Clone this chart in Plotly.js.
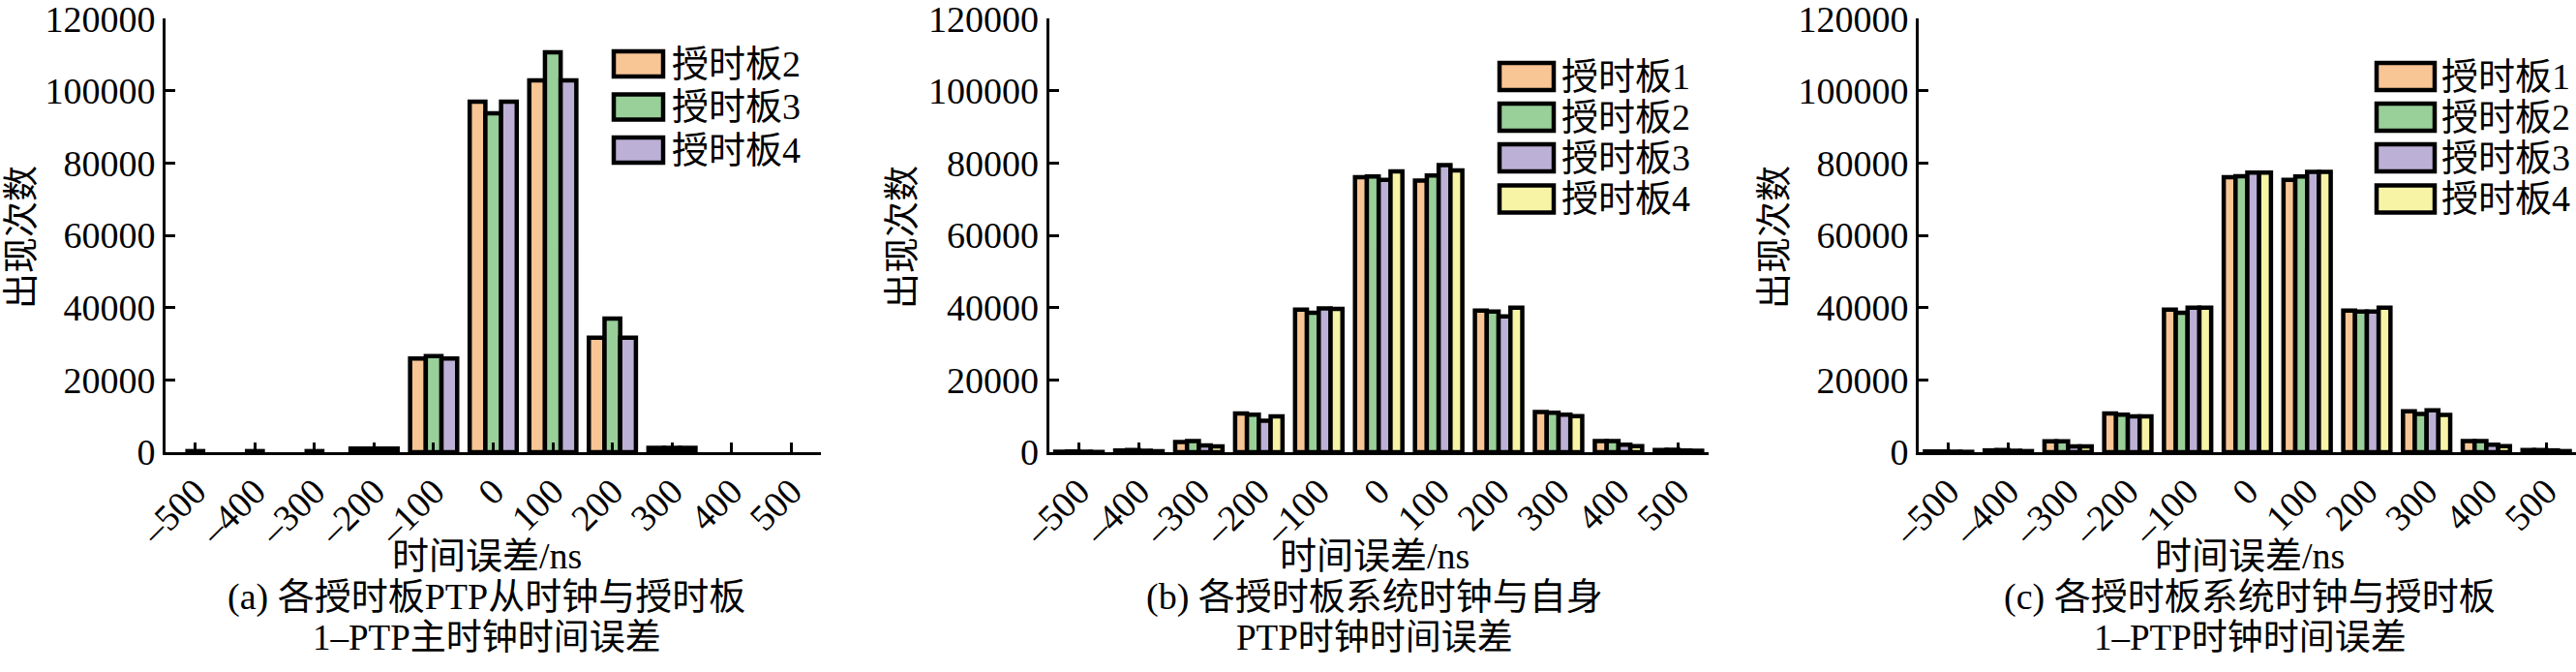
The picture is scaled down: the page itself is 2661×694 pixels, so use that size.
<!DOCTYPE html>
<html>
<head>
<meta charset="utf-8">
<script src="https://cdn.plot.ly/plotly-3.0.1.min.js"></script>
<style>html,body{margin:0;padding:0;background:#fff;}</style>
</head>
<body>
<div id="chart" style="width:2661px;height:694px"></div>
<script>
// ---- data ----
const categories = ['–500','–400','–300','–200','–100','0','100','200','300','400','500'];

// (a) 各授时板PTP从时钟与授时板1-PTP主时钟时间误差
const aNames = ['授时板2','授时板3','授时板4'];
const aBoard2 = [0, 0, 0, 1000, 25900, 97000, 102900, 31700, 1200, 0, 0];
const aBoard3 = [300, 300, 300, 1000, 26600, 93800, 110700, 37000, 1200, 0, 0];
const aBoard4 = [0, 0, 0, 1000, 25900, 97000, 102900, 31700, 1200, 0, 0];

// (b) 各授时板系统时钟与自身PTP时钟时间误差
const bNames = ['授时板1','授时板2','授时板3','授时板4'];
const bBoard1 = [150, 500, 2800, 10700, 39500, 76100, 75200, 39200, 11100, 3100, 600];
const bBoard2 = [200, 600, 3100, 10400, 38600, 76300, 76600, 38900, 10900, 3100, 700];
const bBoard3 = [150, 400, 1900, 8700, 39800, 75400, 79500, 37600, 10400, 2100, 500];
const bBoard4 = [100, 300, 1600, 9900, 39700, 77700, 78000, 40000, 10000, 1700, 400];

// (c) 各授时板系统时钟与授时板1-PTP时钟时间误差
const cNames = ['授时板1','授时板2','授时板3','授时板4'];
const cBoard1 = [200, 500, 3000, 10700, 39500, 76100, 75400, 39200, 11300, 3100, 600];
const cBoard2 = [200, 600, 3000, 10400, 38600, 76400, 76300, 38900, 10600, 3100, 600];
const cBoard3 = [150, 400, 1600, 9900, 40000, 77400, 77600, 38900, 11600, 2100, 500];
const cBoard4 = [100, 300, 1600, 9900, 40000, 77400, 77600, 40000, 10300, 1700, 300];

const yTickVals = [0, 20000, 40000, 60000, 80000, 100000, 120000];
const xTitle = '时间误差/ns';
const yTitle = '出现次数';
const captions = [
  ['(a) 各授时板PTP从时钟与授时板', '1–PTP主时钟时间误差'],
  ['(b) 各授时板系统时钟与自身', 'PTP时钟时间误差'],
  ['(c) 各授时板系统时钟与授时板', '1–PTP时钟时间误差']
];

// ---- styling ----
const W = 2661, H = 694;
const FONT = "'Liberation Serif', 'Noto Sans CJK SC', serif";
const ORANGE = '#F8C595', GREEN = '#99CF98', PURPLE = '#BDB0D6', YELLOW = '#F8F4A6';
const colorsA = [ORANGE, GREEN, PURPLE];
const colorsBC = [ORANGE, GREEN, PURPLE, YELLOW];
const LW = 4.5;

function bar(y, name, color, ax) {
  return {
    type: 'bar', x: categories, y: y, name: name,
    xaxis: 'x' + ax, yaxis: 'y' + ax,
    marker: {color: color, line: {color: '#000', width: y.map(v => v > 0 ? LW : 0)}},
    showlegend: false, hoverinfo: 'x+y+name'
  };
}

const traces = [];
[aBoard2, aBoard3, aBoard4].forEach((s, i) => traces.push(bar(s, aNames[i], colorsA[i], '')));
[bBoard1, bBoard2, bBoard3, bBoard4].forEach((s, i) => traces.push(bar(s, bNames[i], colorsBC[i], '2')));
[cBoard1, cBoard2, cBoard3, cBoard4].forEach((s, i) => traces.push(bar(s, cNames[i], colorsBC[i], '3')));

const yDomain = [1 - 467 / H, 1 - 19.3 / H];
const xDomains = [[171 / W, 848 / W], [1083.6 / W, 1764.8 / W], [1982 / W, 1]];

function xax(domain, anchor) {
  return {
    domain: domain, anchor: anchor, type: 'category', range: [-0.5, 10.5],
    showline: true, linecolor: '#000', linewidth: 3,
    ticks: 'inside', ticklen: 10, tickwidth: 3, tickcolor: '#000',
    tickangle: -45, tickfont: {family: FONT, size: 38, color: '#000'},
    ticklabeloverflow: 'allow',
    showgrid: false, zeroline: false, fixedrange: true
  };
}
function yax(anchor) {
  return {
    domain: yDomain, anchor: anchor, range: [0, 120000],
    tickmode: 'array', tickvals: yTickVals, ticktext: yTickVals.map(String),
    showline: true, linecolor: '#000', linewidth: 3,
    ticks: 'inside', ticklen: 10, tickwidth: 3, tickcolor: '#000',
    tickfont: {family: FONT, size: 38, color: '#000'},
    ticklabeloverflow: 'allow',
    showgrid: false, zeroline: false, fixedrange: true
  };
}

function px(x) { return x / W; }
function py(y) { return 1 - y / H; }

const annotations = [];
const shapes = [];
function text(t, x, y, size, opts) {
  annotations.push(Object.assign({
    text: t, x: px(x), y: py(y), xref: 'paper', yref: 'paper',
    showarrow: false, xanchor: 'center', yanchor: 'middle',
    font: {family: FONT, size: size, color: '#000'}
  }, opts || {}));
}

// axis titles + captions
const centers = [503, 1420, 2324];
const yTitleX = [23, 933, 1834];
for (let i = 0; i < 3; i++) {
  text(xTitle, centers[i], 574, 38);
  text(captions[i][0], centers[i], 616, 38);
  text(captions[i][1], centers[i], 658, 37);
  text(yTitle, yTitleX[i], 245, 37, {textangle: -90});
}

// legends (drawn boxes)
function legend(names, colors, x0, x1, rows, h, tx) {
  names.forEach((n, i) => {
    const yc = rows[i];
    shapes.push({
      type: 'rect', xref: 'paper', yref: 'paper',
      x0: px(x0), x1: px(x1), y0: py(yc - h / 2), y1: py(yc + h / 2),
      fillcolor: colors[i], line: {color: '#000', width: LW}
    });
    text(n, tx, yc, 38, {xanchor: 'left'});
  });
}
legend(aNames, colorsA, 634, 685, [66, 110.5, 155], 26, 692);
legend(bNames, colorsBC, 1549, 1605, [79, 121, 163, 205.5], 28, 1611);
legend(cNames, colorsBC, 2455, 2515, [79, 121, 163, 205.5], 28, 2520);

const layout = {
  width: W, height: H, autosize: false,
  margin: {l: 0, r: 0, t: 0, b: 0, pad: 0},
  paper_bgcolor: '#fff', plot_bgcolor: '#fff',
  barmode: 'group', bargap: 0.21, bargroupgap: 0,
  font: {family: FONT, size: 34, color: '#000'},
  xaxis: xax(xDomains[0], 'y'), yaxis: yax('x'),
  xaxis2: xax(xDomains[1], 'y2'), yaxis2: yax('x2'),
  xaxis3: xax(xDomains[2], 'y3'), yaxis3: yax('x3'),
  showlegend: false,
  annotations: annotations, shapes: shapes
};

Plotly.newPlot('chart', traces, layout, {displayModeBar: false, staticPlot: true});
</script>
</body>
</html>
